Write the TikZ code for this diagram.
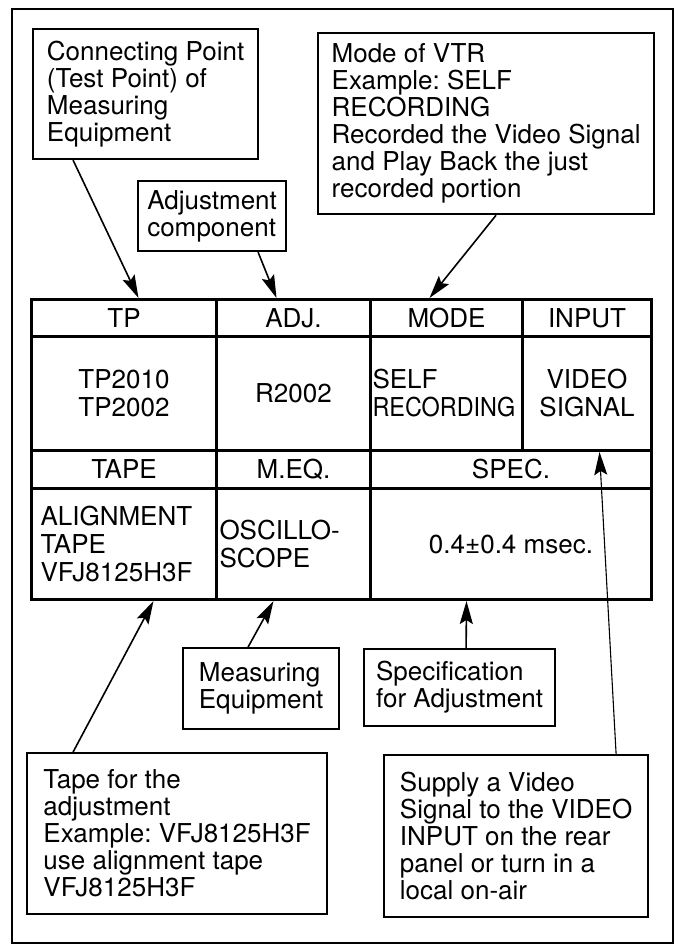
\documentclass[tikz,border=0pt]{standalone}
\usepackage{graphicx}
\usepackage{fontspec}
\setmainfont{TeX Gyre Heros}
\frenchspacing
\usetikzlibrary{arrows.meta}

\begin{document}
\begin{tikzpicture}[x=1pt,y=-1pt,
  every node/.style={font=\fontsize{26}{27}\selectfont},
  note/.style={draw,line width=2.2pt,anchor=north west,align=left,inner sep=0pt},
  cell/.style={draw,line width=3pt,anchor=north west,align=center,inner sep=0pt,
    font=\fontsize{26}{28}\selectfont},
  ptr/.style={line width=1.6pt,-{Stealth[length=23pt,width=13pt,inset=4pt]}}]
  \useasboundingbox (0,0) rectangle (677,947);
  \draw[line width=2.2pt] (12,9) rectangle (673,943);

  % callouts above the table
  \node[note,minimum width=225pt,minimum height=130pt] (cp) at (32,28)
    {Connecting Point\\(Test Point) of\\Measuring\\Equipment};
  \node[note,minimum width=148pt,minimum height=70pt] (adjnote) at (137,180)
    {Adjustment\\component};
  \node[note,minimum width=336pt,minimum height=181pt] (modenote) at (317,32)
    {Mode of VTR\\Example: SELF\\RECORDING\\Recorded the Video Signal\\and Play Back the just\\recorded portion};

  % table
  \node[cell,minimum width=185pt,minimum height=37pt] (tp) at (30,298) {TP};
  \node[cell,minimum width=154pt,minimum height=37pt] (adj) at (215,298) {ADJ.};
  \node[cell,minimum width=152pt,minimum height=37pt] (mode) at (369,298) {MODE};
  \node[cell,minimum width=129pt,minimum height=37pt] (inp) at (521,298) {INPUT};
  \node[cell,minimum width=185pt,minimum height=114pt] (tpv) at (30,335) {TP2010\\TP2002};
  \node[cell,minimum width=154pt,minimum height=114pt] (adjv) at (215,335) {R2002};
  \node[cell,minimum width=152pt,minimum height=114pt,text width=148pt,inner xsep=2pt,align=left] (modev) at (369,335)
    {SELF\\\scalebox{0.9}[1]{RECORDING}};
  \node[cell,minimum width=129pt,minimum height=114pt] (inpv) at (521,335) {VIDEO\\SIGNAL};
  \node[cell,minimum width=185pt,minimum height=38pt] (tape) at (30,449) {TAPE};
  \node[cell,minimum width=154pt,minimum height=38pt] (meq) at (215,449) {M.EQ.};
  \node[cell,minimum width=281pt,minimum height=38pt] (spec) at (369,449) {SPEC.};
  \node[cell,minimum width=185pt,minimum height=111pt,text width=167pt,inner xsep=9pt,align=left] (tapev) at (30,487)
    {ALIGNMENT\\TAPE\\VFJ8125H3F};
  \node[cell,minimum width=154pt,minimum height=111pt,text width=148pt,inner xsep=3pt,align=left] (meqv) at (215,487)
    {OSCILLO-\\SCOPE};
  \node[cell,minimum width=281pt,minimum height=111pt] (specv) at (369,487) {0.4±0.4 msec.};

  % callouts below the table
  \node[note,minimum width=156pt,minimum height=81pt] (meqnote) at (182,647)
    {Measuring\\Equipment};
  \node[note,minimum width=191pt,minimum height=77pt] (specnote) at (363,648)
    {Specification\\for Adjustment};
  \node[note,minimum width=300pt,minimum height=161pt] (tapenote) at (26,752)
    {Tape for the\\adjustment\\Example: VFJ8125H3F\\use alignment tape\\VFJ8125H3F};
  \node[note,minimum width=264pt,minimum height=162pt] (inpnote) at (383,754)
    {Supply a Video\\Signal to the VIDEO\\INPUT on the rear\\panel or turn in a\\local on-air};

  % pointers
  \draw[ptr] ([xshift=-72.5pt]cp.south) -- ([xshift=14.5pt]tp.north);
  \draw[ptr] ([xshift=46pt]adjnote.south) -- ([xshift=-17pt]adj.north);
  \draw[ptr] ([xshift=10pt]modenote.south) -- ([xshift=-17pt]mode.north);
  \draw[ptr] ([xshift=-104pt]tapenote.north) -- ([xshift=29.5pt]tapev.south);
  \draw[ptr] ([xshift=-13pt]meqnote.north) -- ([xshift=-20pt]meqv.south);
  \draw[ptr] ([xshift=6.5pt]specnote.north) -- ([xshift=-44.5pt]specv.south);
  \draw[ptr,line width=1.1pt] ([xshift=100pt]inpnote.north) -- ([xshift=12.5pt]inpv.south);
\end{tikzpicture}
\end{document}
